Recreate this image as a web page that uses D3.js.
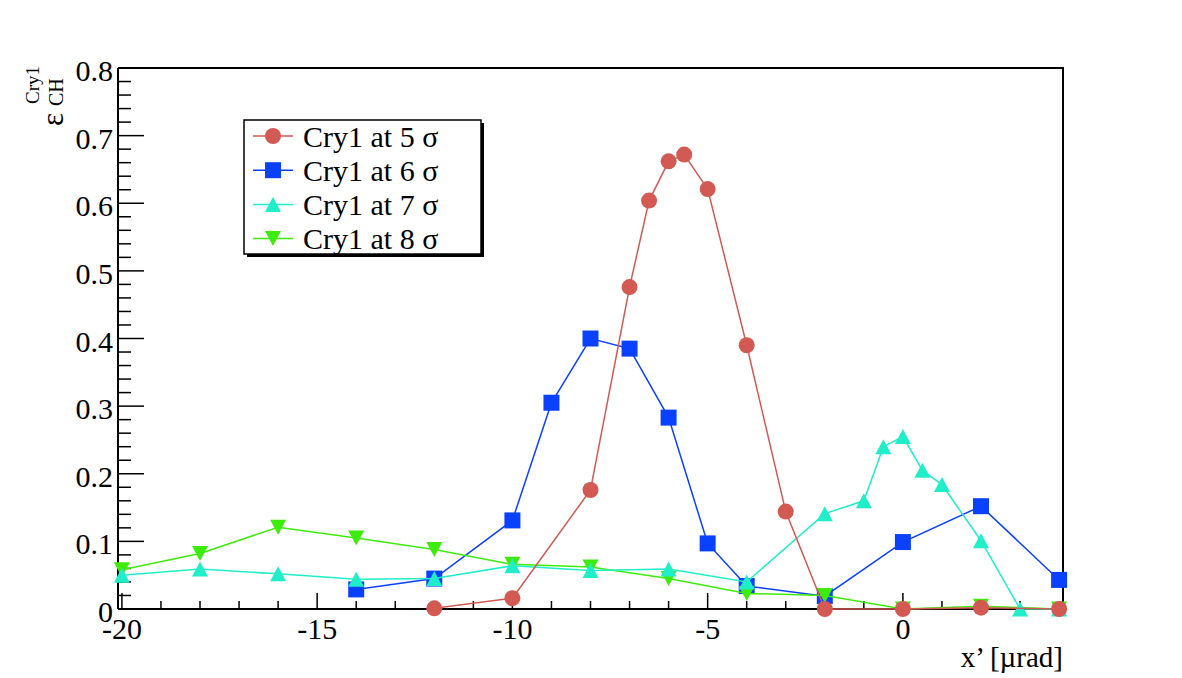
<!DOCTYPE html>
<html>
<head>
<meta charset="utf-8">
<script src="https://cdn.jsdelivr.net/npm/d3@7"></script>
<style>
html,body{margin:0;padding:0;background:#fff;}
svg{display:block;}
text{font-family:"Liberation Serif","Times New Roman",serif;fill:#000;}
</style>
</head>
<body>
<svg id="chart" width="1182" height="678" font-family="Liberation Serif, serif"></svg>
<script>
// ---- data ----
const xTickLabels = [-20, -15, -10, -5, 0];
const yTickLabels = [0, 0.1, 0.2, 0.3, 0.4, 0.5, 0.6, 0.7, 0.8];

const s5Name = "Cry1 at 5 σ";
const s5x = [-12, -10, -8, -7, -6.5, -6, -5.6, -5, -4, -3, -2, 0, 2, 4];
const s5y = [0.001, 0.016, 0.176, 0.476, 0.604, 0.662, 0.672, 0.621, 0.390, 0.144, 0, 0, 0.002, 0];

const s6Name = "Cry1 at 6 σ";
const s6x = [-14, -12, -10, -9, -8, -7, -6, -5, -4, -2, 0, 2, 4];
const s6y = [0.029, 0.045, 0.131, 0.305, 0.400, 0.385, 0.283, 0.097, 0.034, 0.019, 0.099, 0.152, 0.043];

const s7Name = "Cry1 at 7 σ";
const s7x = [-20, -18, -16, -14, -12, -10, -8, -6, -4, -2, -1, -0.5, 0, 0.5, 1, 2, 3, 4];
const s7y = [0.050, 0.059, 0.052, 0.044, 0.045, 0.064, 0.057, 0.059, 0.040, 0.141, 0.160, 0.240, 0.255, 0.205, 0.184, 0.101, 0, 0];

const s8Name = "Cry1 at 8 σ";
const s8x = [-20, -18, -16, -14, -12, -10, -8, -6, -4, -2, 0, 2, 4];
const s8y = [0.058, 0.082, 0.121, 0.105, 0.088, 0.066, 0.062, 0.045, 0.023, 0.020, 0, 0.004, 0];

// ---- layout ----
const svg = d3.select("#chart");
const L = 118, R = 1063, T = 68, B = 609;
const x = d3.scaleLinear().domain([-20.1, 4.1]).range([L, R]);
const y = d3.scaleLinear().domain([0, 0.8]).range([B, T]);

const series = [
  {name: s6Name, xs: s6x, ys: s6y, color: "#0a40ff", marker: "square"},
  {name: s8Name, xs: s8x, ys: s8y, color: "#3eec0c", marker: "tdown"},
  {name: s7Name, xs: s7x, ys: s7y, color: "#20eec8", marker: "tup"},
  {name: s5Name, xs: s5x, ys: s5y, color: "#d35a52", marker: "circle"}
];
const legendOrder = [series[3], series[0], series[2], series[1]];

function markerPath(type) {
  if (type === "square") return "M-8,-8H8V8H-8Z";
  if (type === "tup") return "M0,-7.5L8,7.5L-8,7.5Z";
  if (type === "tdown") return "M0,7.5L8,-7.5L-8,-7.5Z";
  return d3.symbol().type(d3.symbolCircle).size(Math.PI * 64)();
}

svg.append("rect").attr("width", 1182).attr("height", 678).attr("fill", "#fff");

// frame top/right
svg.append("path").attr("d", `M${L},${T}H${R}V${B}`).attr("fill", "none")
  .attr("stroke", "#000").attr("stroke-width", 2);

// x axis
const gx = svg.append("g").attr("transform", `translate(0,${B})`);
gx.append("line").attr("x1", L).attr("x2", R).attr("stroke", "#000").attr("stroke-width", 2);
gx.selectAll(".tk").data(d3.range(-20, 5, 1)).join("line")
  .attr("x1", d => x(d)).attr("x2", d => x(d))
  .attr("y1", 0).attr("y2", d => d % 5 === 0 ? -16 : -8)
  .attr("stroke", "#000").attr("stroke-width", 1.5);
gx.selectAll(".lb").data(xTickLabels).join("text")
  .attr("x", d => x(d)).attr("y", 30).attr("text-anchor", "middle")
  .attr("font-size", 30).text(d => d);

// y axis
const gy = svg.append("g").attr("transform", `translate(${L},0)`);
gy.append("line").attr("y1", T).attr("y2", B).attr("stroke", "#000").attr("stroke-width", 2);
const yMinor = d3.range(0, 41).map(i => i * 0.02);
gy.selectAll(".tk").data(yMinor).join("line")
  .attr("y1", d => y(d)).attr("y2", d => y(d))
  .attr("x1", 0).attr("x2", (d, i) => i % 5 === 0 ? 26 : 13)
  .attr("stroke", "#000").attr("stroke-width", 1.5);
gy.selectAll(".lb").data(yTickLabels).join("text")
  .attr("x", -5).attr("y", d => y(d) + 13).attr("text-anchor", "end")
  .attr("font-size", 30).text(d => d === 0 ? "0" : d3.format(".1f")(d));

// axis titles
svg.append("text").attr("x", R).attr("y", 667).attr("text-anchor", "end")
  .attr("font-size", 29).text("x’ [µrad]");
svg.append("text").attr("transform", "translate(63,126) rotate(-90)")
  .attr("font-size", 31).text("ε");
svg.append("text").attr("transform", "translate(63,106) rotate(-90)")
  .attr("font-size", 20).text("CH");
svg.append("text").attr("transform", "translate(39,104) rotate(-90)")
  .attr("font-size", 19).text("Cry1");

// series
const line = d3.line().x(d => x(d[0])).y(d => y(d[1]));
series.forEach(s => {
  const pts = s.xs.map((v, i) => [v, s.ys[i]]);
  const g = svg.append("g");
  g.append("path").attr("d", line(pts)).attr("fill", "none")
    .attr("stroke", s.color).attr("stroke-width", 1.5);
  g.selectAll("path.m").data(pts).join("path").attr("class", "m")
    .attr("d", markerPath(s.marker))
    .attr("transform", d => `translate(${x(d[0])},${y(d[1])})`)
    .attr("fill", s.color);
});

// legend
const lg = svg.append("g");
lg.append("rect").attr("x", 247).attr("y", 123).attr("width", 237).attr("height", 134).attr("fill", "#000");
lg.append("rect").attr("x", 244).attr("y", 120).attr("width", 237).attr("height", 134)
  .attr("fill", "#fff").attr("stroke", "#000").attr("stroke-width", 1.5);
legendOrder.forEach((s, i) => {
  const cy = 136 + i * 34.2;
  lg.append("line").attr("x1", 253).attr("x2", 293).attr("y1", cy).attr("y2", cy)
    .attr("stroke", s.color).attr("stroke-width", 1.5);
  lg.append("path").attr("d", markerPath(s.marker))
    .attr("transform", `translate(273,${cy})`).attr("fill", s.color);
  lg.append("text").attr("x", 303).attr("y", cy + 10.5).attr("font-size", 30).text(s.name);
});
</script>
</body>
</html>
